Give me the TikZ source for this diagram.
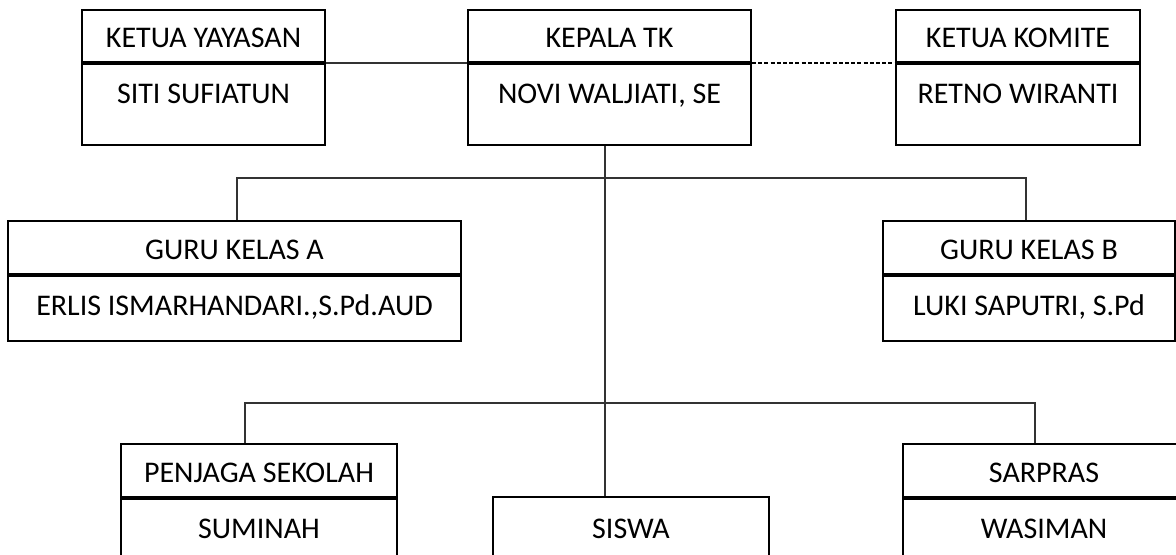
\documentclass[tikz,border=0pt]{standalone}
\usepackage{fontspec}
\setmainfont{Carlito}
\begin{document}
\begin{tikzpicture}[x=0.5pt,y=-0.5pt,
  cell/.style={draw=black,line width=1pt,rectangle,inner sep=0pt,fill=white},
  divider/.style={line width=1.5pt,black},
  conn/.style={line width=0.6pt,black!80},
  txt/.style={inner sep=0pt,anchor=base,font=\fontsize{15}{18}\selectfont}]
\useasboundingbox (0,0) rectangle (1176,554);
\clip (0,0) rectangle (1176,554);
\fill[white] (0,0) rectangle (1176,554);
\coordinate (trunk) at (605,0);
\coordinate (bar1) at (0,178);
\coordinate (l2a) at (245,403);
\coordinate (l2b) at (1035,403);
\coordinate (gaa) at (237,0);
\coordinate (gbb) at (1026,0);
% top row
\node[cell,minimum width=243*0.5pt,minimum height=52*0.5pt] (kyh) at (203.5,36) {};
\node[cell,minimum width=243*0.5pt,minimum height=83*0.5pt] (kyb) at (203.5,103.5) {};
\node[txt] (kyx) at (203.5,47.5) {KETUA YAYASAN};
\node[txt] (kyt) at (203.5,103) {SITI SUFIATUN};
\node[cell,minimum width=283*0.5pt,minimum height=52*0.5pt] (kth) at (609.5,36) {};
\node[cell,minimum width=283*0.5pt,minimum height=83*0.5pt] (ktb) at (609.5,103.5) {};
\node[txt] (ktx) at (609.5,47.5) {KEPALA TK};
\node[txt] (ktt) at (609.5,103) {NOVI WALJIATI, SE};
\node[cell,minimum width=244*0.5pt,minimum height=52*0.5pt] (kkh) at (1018,36) {};
\node[cell,minimum width=244*0.5pt,minimum height=83*0.5pt] (kkb) at (1018,103.5) {};
\node[txt] (kkx) at (1018,47.5) {KETUA KOMITE};
\node[txt] (kkt) at (1018,103) {RETNO WIRANTI};
% guru row
\node[cell,minimum width=453*0.5pt,minimum height=53*0.5pt] (gah) at (234.5,247.5) {};
\node[cell,minimum width=453*0.5pt,minimum height=67*0.5pt] (gab) at (234.5,307.5) {};
\node[txt] (gax) at (234.5,259.5) {GURU KELAS A};
\node[txt] (gat) at (234.5,315) {ERLIS ISMARHANDARI.,S.Pd.AUD};
\node[cell,minimum width=292*0.5pt,minimum height=53*0.5pt] (gbh) at (1029,247.5) {};
\node[cell,minimum width=292*0.5pt,minimum height=67*0.5pt] (gbb2) at (1029,307.5) {};
\node[txt] (gbx) at (1029,259.5) {GURU KELAS B};
\node[txt] (gbt) at (1029,315) {LUKI SAPUTRI, S.Pd};
% bottom row
\node[cell,minimum width=276*0.5pt,minimum height=53*0.5pt] (psh) at (259,470.5) {};
\node[cell,minimum width=276*0.5pt,minimum height=70*0.5pt] (psb) at (259,532) {};
\node[txt] (psx) at (259,482.5) {PENJAGA SEKOLAH};
\node[txt] (pst) at (259,538) {SUMINAH};
\node[cell,minimum width=276*0.5pt,minimum height=70*0.5pt] (swb) at (631,532) {};
\node[txt] (swt) at (631,538) {SISWA};
\node[cell,minimum width=282*0.5pt,minimum height=53*0.5pt] (sph) at (1044,470.5) {};
\node[cell,minimum width=282*0.5pt,minimum height=70*0.5pt] (spb) at (1044,532) {};
\node[txt] (spx) at (1044,482.5) {SARPRAS};
\node[txt] (spt) at (1044,538) {WASIMAN};
% dividers
\foreach \n in {ky,kt,kk,ga,gb,ps,sp}{\draw[divider] (\n h.south west) -- (\n h.south east);}
% connectors
\draw[conn] (kyh.south east) -- (kth.south west);
\draw[conn,line width=0.7pt,black,dash pattern=on 2pt off 1.1pt] (kth.south east) -- (kkh.south west);
\draw[conn] (ktb.south -| trunk) -- (swb.north -| trunk);
\draw[conn] (gah.north -| gaa) -- (bar1 -| gaa) -- (bar1 -| gbb) -- (gbh.north -| gbb);
\draw[conn] (psh.north -| l2a) -- (l2a) -- (l2b) -- (sph.north -| l2b);
\end{tikzpicture}
\end{document}
